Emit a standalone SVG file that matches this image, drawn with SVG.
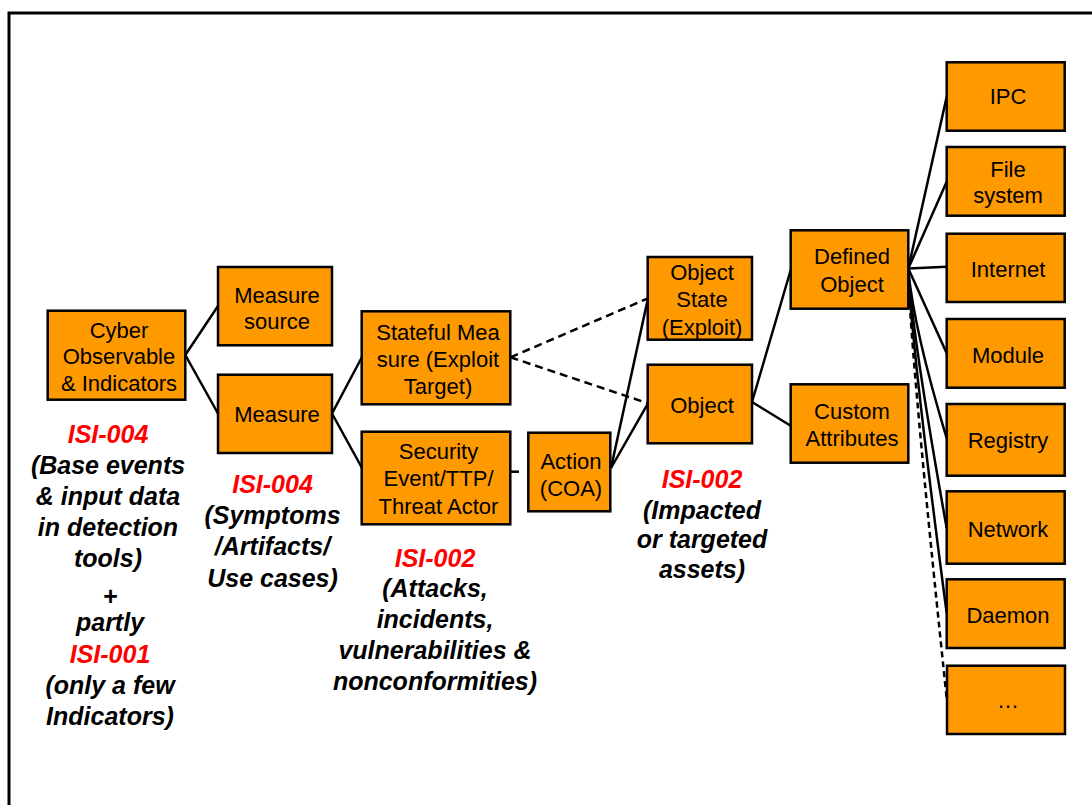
<svg xmlns="http://www.w3.org/2000/svg" width="1092" height="805" viewBox="0 0 1092 805">
  <style>
    .box { fill: #FF9900; stroke: #000; stroke-width: 2.5; }
    .bt { font-family: "Liberation Sans", Arial, sans-serif; font-size: 22px; fill: #000; text-anchor: middle; }
    .lbl { font-family: "Liberation Sans", Arial, sans-serif; font-size: 25px; font-weight: bold; font-style: italic; fill: #000; text-anchor: middle; }
    .red { fill: #FF0000; }
    .conn line, .conn path { stroke: #000; stroke-width: 2.5; fill: none; }
    .conn .dash { stroke-dasharray: 8 5; }
    .conn .dash2 { stroke-dasharray: 6 4; }
  </style>
  <rect width="1092" height="805" fill="#fff"/>
  <!-- outer frame, open to the right and bottom -->
  <path d="M9,805 V13 H1092" fill="none" stroke="#000" stroke-width="3"/>

  <!-- connectors -->
  <g id="connectors" class="conn">
    <line x1="185.3" y1="355" x2="218" y2="306"/>
    <line x1="185.3" y1="355" x2="218" y2="413.5"/>
    <line x1="332" y1="413.5" x2="362" y2="357"/>
    <line x1="332" y1="413.5" x2="362" y2="468"/>
    <line x1="510.5" y1="357.3" x2="648" y2="298.3" class="dash"/>
    <line x1="510.5" y1="357.3" x2="648" y2="403.3" class="dash"/>
    <line x1="510.5" y1="471.7" x2="519" y2="471.7"/>
    <line x1="611" y1="468" x2="648" y2="298.3"/>
    <line x1="611" y1="468" x2="648" y2="403.3"/>
    <line x1="752" y1="402" x2="790.7" y2="270"/>
    <line x1="752" y1="402" x2="790.7" y2="425.7"/>
    <line x1="908.3" y1="268.5" x2="946.7" y2="96.7"/>
    <line x1="908.3" y1="268.5" x2="946.7" y2="181.7"/>
    <line x1="908.3" y1="268.5" x2="946.7" y2="266.7"/>
    <line x1="908.3" y1="268.5" x2="946.7" y2="353.3"/>
    <path d="M908.3,270 Q914,330 946.7,438.3"/>
    <path d="M908.3,271 Q913,340 946.7,528.3"/>
    <path d="M908.3,272 Q912,350 946.7,613.3"/>
    <path d="M908.3,273 Q911,360 946.7,698.3" class="dash2"/>
  </g>

  <g id="cyber-observable">
    <rect class="box" x="47.7" y="310.7" width="137.6" height="89"/>
    <text class="bt" x="119" y="337.7">Cyber</text>
    <text class="bt" x="119" y="364.3">Observable</text>
    <text class="bt" x="119" y="391">&amp; Indicators</text>
  </g>
  <g id="measure-source">
    <rect class="box" x="218" y="267" width="114" height="78.3"/>
    <text class="bt" x="277" y="302.6">Measure</text>
    <text class="bt" x="277" y="329.3">source</text>
  </g>
  <g id="measure">
    <rect class="box" x="218" y="374.7" width="114" height="78.3"/>
    <text class="bt" x="277" y="422">Measure</text>
  </g>
  <g id="stateful-measure">
    <rect class="box" x="361.7" y="311.3" width="148.6" height="93"/>
    <text class="bt" x="438" y="340">Stateful Mea</text>
    <text class="bt" x="438" y="367">sure (Exploit</text>
    <text class="bt" x="438" y="394">Target)</text>
  </g>
  <g id="security-event">
    <rect class="box" x="361.7" y="431.7" width="148.6" height="92.6"/>
    <text class="bt" x="438.5" y="458.5">Security</text>
    <text class="bt" x="438.5" y="486">Event/TTP/</text>
    <text class="bt" x="438.5" y="513.5">Threat Actor</text>
  </g>
  <g id="action-coa">
    <rect class="box" x="528.3" y="432.7" width="82" height="78.6"/>
    <text class="bt" x="571" y="468.5">Action</text>
    <text class="bt" x="571" y="495.5">(COA)</text>
  </g>
  <g id="object-state">
    <rect class="box" x="647.7" y="257" width="104.3" height="82.7"/>
    <text class="bt" x="702" y="280">Object</text>
    <text class="bt" x="702" y="307.3">State</text>
    <text class="bt" x="702" y="334.5">(Exploit)</text>
  </g>
  <g id="object">
    <rect class="box" x="647.7" y="364.7" width="104.3" height="78.6"/>
    <text class="bt" x="702" y="412.5">Object</text>
  </g>
  <g id="defined-object">
    <rect class="box" x="790.7" y="230.3" width="117.6" height="78.4"/>
    <text class="bt" x="852" y="264.3">Defined</text>
    <text class="bt" x="852" y="291.5">Object</text>
  </g>
  <g id="custom-attributes">
    <rect class="box" x="790.7" y="384.3" width="117.6" height="78.4"/>
    <text class="bt" x="852" y="419">Custom</text>
    <text class="bt" x="852" y="445.7">Attributes</text>
  </g>

  <g id="ipc">
    <rect class="box" x="946.7" y="62.3" width="118" height="68.4"/>
    <text class="bt" x="1008" y="104.3">IPC</text>
  </g>
  <g id="file-system">
    <rect class="box" x="946.7" y="147" width="118" height="68.7"/>
    <text class="bt" x="1008" y="176.7">File</text>
    <text class="bt" x="1008" y="203.3">system</text>
  </g>
  <g id="internet">
    <rect class="box" x="946.7" y="233.7" width="118" height="68.3"/>
    <text class="bt" x="1008" y="276.7">Internet</text>
  </g>
  <g id="module">
    <rect class="box" x="946.7" y="319" width="118" height="68.7"/>
    <text class="bt" x="1008" y="362.7">Module</text>
  </g>
  <g id="registry">
    <rect class="box" x="946.7" y="404" width="118" height="71.7"/>
    <text class="bt" x="1008" y="448.3">Registry</text>
  </g>
  <g id="network">
    <rect class="box" x="946.7" y="491.3" width="118" height="72.4"/>
    <text class="bt" x="1008" y="536.7">Network</text>
  </g>
  <g id="daemon">
    <rect class="box" x="946.7" y="579.3" width="118" height="68.7"/>
    <text class="bt" x="1008" y="622.7">Daemon</text>
  </g>
  <g id="more">
    <rect class="box" x="947" y="665.7" width="118" height="68.3"/>
    <text class="bt" x="1008" y="708.3">…</text>
  </g>

  <!-- scope annotations -->
  <g id="label-observables">
    <text class="lbl red" x="108" y="443">ISI-004</text>
    <text class="lbl" x="108" y="474">(Base events</text>
    <text class="lbl" x="108" y="505">&amp; input data</text>
    <text class="lbl" x="108" y="536">in detection</text>
    <text class="lbl" x="108" y="567">tools)</text>
    <text class="lbl" x="110" y="605">+</text>
    <text class="lbl" x="110" y="631">partly</text>
    <text class="lbl red" x="110" y="663">ISI-001</text>
    <text class="lbl" x="110" y="694">(only a few</text>
    <text class="lbl" x="110" y="725">Indicators)</text>
  </g>
  <g id="label-measures">
    <text class="lbl red" x="272.5" y="493">ISI-004</text>
    <text class="lbl" x="272.5" y="523.5">(Symptoms</text>
    <text class="lbl" x="272.5" y="555">/Artifacts/</text>
    <text class="lbl" x="272.5" y="586.5">Use cases)</text>
  </g>
  <g id="label-attacks">
    <text class="lbl red" x="435" y="566.7">ISI-002</text>
    <text class="lbl" x="435" y="597">(Attacks,</text>
    <text class="lbl" x="435" y="628.3">incidents,</text>
    <text class="lbl" x="435" y="659.3">vulnerabilities &amp;</text>
    <text class="lbl" x="435" y="690">nonconformities)</text>
  </g>
  <g id="label-assets">
    <text class="lbl red" x="702" y="488">ISI-002</text>
    <text class="lbl" x="702" y="518.5">(Impacted</text>
    <text class="lbl" x="702" y="548">or targeted</text>
    <text class="lbl" x="702" y="578">assets)</text>
  </g>
</svg>
